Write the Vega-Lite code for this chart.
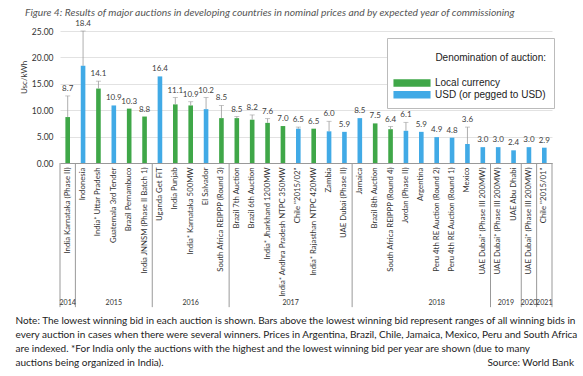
{
  "$schema": "https://vega.github.io/schema/vega-lite/v6.json",
  "autosize": "none",
  "width": 492,
  "height": 132,
  "padding": {"left": 60, "top": 31, "right": 31, "bottom": 213},
  "background": "white",
  "title": {
    "text": "Figure 4: Results of major auctions in developing countries in nominal prices and by expected year of commissioning",
    "anchor": "start",
    "frame": "group",
    "dx": -35,
    "dy": 2,
    "font": "Lato",
    "fontSize": 10.3,
    "fontStyle": "italic",
    "fontWeight": "normal",
    "color": "#555555"
  },
  "datasets": {
    "bars": [
      {"key": "India Karnataka (Phase II)#2014", "currency": "Local currency", "value": 8.7, "hi": 12.7},
      {"key": "Indonesia#2015", "currency": "USD (or pegged to USD)", "value": 18.4, "hi": 25.0},
      {"key": "India* Uttar Pradesh#2015", "currency": "Local currency", "value": 14.1, "hi": 15.5},
      {"key": "Guatemala 3rd Tender#2015", "currency": "USD (or pegged to USD)", "value": 10.9, "hi": 10.9},
      {"key": "Brazil Pernambuco#2015", "currency": "Local currency", "value": 10.3, "hi": 10.3},
      {"key": "India JNNSM (Phase II Batch 1)#2015", "currency": "Local currency", "value": 8.8, "hi": 8.8},
      {"key": "Uganda Get FiT#2016", "currency": "USD (or pegged to USD)", "value": 16.4, "hi": 16.4},
      {"key": "India Punjab#2016", "currency": "Local currency", "value": 11.1, "hi": 12.4},
      {"key": "India* Karnataka 500MW#2016", "currency": "Local currency", "value": 10.9, "hi": 11.6},
      {"key": "El Salvador#2016", "currency": "USD (or pegged to USD)", "value": 10.2, "hi": 12.4},
      {"key": "South Africa REIPPP (Round 3)#2016", "currency": "Local currency", "value": 8.5, "hi": 10.9},
      {"key": "Brazil 7th Auction#2017", "currency": "Local currency", "value": 8.5, "hi": 8.8},
      {"key": "Brazil 6th Auction#2017", "currency": "Local currency", "value": 8.2, "hi": 9.1},
      {"key": "India* Jharkhand 1200MW#2017", "currency": "Local currency", "value": 7.6, "hi": 8.4},
      {"key": "India* Andhra Pradesh NTPC 350MW#2017", "currency": "Local currency", "value": 7.0, "hi": 7.0},
      {"key": "Chile \"2015/02\"#2017", "currency": "USD (or pegged to USD)", "value": 6.5, "hi": 6.8},
      {"key": "India* Rajasthan NTPC 420MW#2017", "currency": "Local currency", "value": 6.5, "hi": 6.5},
      {"key": "Zambia#2017", "currency": "USD (or pegged to USD)", "value": 6.0, "hi": 7.9},
      {"key": "UAE Dubai (Phase II)#2017", "currency": "USD (or pegged to USD)", "value": 5.9, "hi": 5.9},
      {"key": "Jamaica#2018", "currency": "USD (or pegged to USD)", "value": 8.5, "hi": 8.5},
      {"key": "Brazil 8th Auction#2018", "currency": "Local currency", "value": 7.5, "hi": 7.5},
      {"key": "South Africa REIPPP (Round 4)#2018", "currency": "Local currency", "value": 6.4, "hi": 6.9},
      {"key": "Jordan (Phase II)#2018", "currency": "USD (or pegged to USD)", "value": 6.1, "hi": 7.7},
      {"key": "Argentina#2018", "currency": "USD (or pegged to USD)", "value": 5.9, "hi": 5.9},
      {"key": "Peru 4th RE Auction (Round 2)#2018", "currency": "USD (or pegged to USD)", "value": 4.9, "hi": 4.9},
      {"key": "Peru 4th RE Auction (Round 1)#2018", "currency": "USD (or pegged to USD)", "value": 4.8, "hi": 4.8},
      {"key": "Mexico#2018", "currency": "USD (or pegged to USD)", "value": 3.6, "hi": 6.8},
      {"key": "UAE Dubai* (Phase III 200MW)#2018", "currency": "USD (or pegged to USD)", "value": 3.0, "hi": 3.0},
      {"key": "UAE Dubai* (Phase III 200MW)#2019", "currency": "USD (or pegged to USD)", "value": 3.0, "hi": 3.0},
      {"key": "UAE Abu Dhabi#2019", "currency": "USD (or pegged to USD)", "value": 2.4, "hi": 2.4},
      {"key": "UAE Dubai* (Phase III 200MW)#2020", "currency": "USD (or pegged to USD)", "value": 3.0, "hi": 3.0},
      {"key": "Chile \"2015/01\"#2021", "currency": "USD (or pegged to USD)", "value": 2.9, "hi": 2.9}
    ],
    "groups": [
      {"year": "2014", "first": "India Karnataka (Phase II)#2014", "last": "India Karnataka (Phase II)#2014", "centre": "India Karnataka (Phase II)#2014", "between": false},
      {"year": "2015", "first": "Indonesia#2015", "last": "India JNNSM (Phase II Batch 1)#2015", "centre": "Guatemala 3rd Tender#2015", "between": false},
      {"year": "2016", "first": "Uganda Get FiT#2016", "last": "South Africa REIPPP (Round 3)#2016", "centre": "India* Karnataka 500MW#2016", "between": false},
      {"year": "2017", "first": "Brazil 7th Auction#2017", "last": "UAE Dubai (Phase II)#2017", "centre": "Chile \"2015/02\"#2017", "between": true},
      {"year": "2018", "first": "Jamaica#2018", "last": "UAE Dubai* (Phase III 200MW)#2018", "centre": "Peru 4th RE Auction (Round 2)#2018", "between": false},
      {"year": "2019", "first": "UAE Dubai* (Phase III 200MW)#2019", "last": "UAE Abu Dhabi#2019", "centre": "UAE Abu Dhabi#2019", "between": true},
      {"year": "2020", "first": "UAE Dubai* (Phase III 200MW)#2020", "last": "UAE Dubai* (Phase III 200MW)#2020", "centre": "UAE Dubai* (Phase III 200MW)#2020", "between": false},
      {"year": "2021", "first": "Chile \"2015/01\"#2021", "last": "Chile \"2015/01\"#2021", "centre": "Chile \"2015/01\"#2021", "between": false}
    ],
    "source": [
      {"text": "Source: World Bank", "at": "Chile \"2015/01\"#2021"}
    ]
  },
  "layer": [
    {
      "data": {"name": "bars"},
      "mark": {"type": "bar", "width": {"band": 0.3}},
      "encoding": {
        "x": {
          "field": "key",
          "type": "nominal",
          "sort": null,
          "scale": {
            "paddingInner": 0,
            "paddingOuter": 0,
            "domain": [
              "India Karnataka (Phase II)#2014", "Indonesia#2015", "India* Uttar Pradesh#2015", "Guatemala 3rd Tender#2015", "Brazil Pernambuco#2015", "India JNNSM (Phase II Batch 1)#2015",
              "Uganda Get FiT#2016", "India Punjab#2016", "India* Karnataka 500MW#2016", "El Salvador#2016", "South Africa REIPPP (Round 3)#2016",
              "Brazil 7th Auction#2017", "Brazil 6th Auction#2017", "India* Jharkhand 1200MW#2017", "India* Andhra Pradesh NTPC 350MW#2017", "Chile \"2015/02\"#2017", "India* Rajasthan NTPC 420MW#2017", "Zambia#2017", "UAE Dubai (Phase II)#2017",
              "Jamaica#2018", "Brazil 8th Auction#2018", "South Africa REIPPP (Round 4)#2018", "Jordan (Phase II)#2018", "Argentina#2018", "Peru 4th RE Auction (Round 2)#2018", "Peru 4th RE Auction (Round 1)#2018", "Mexico#2018", "UAE Dubai* (Phase III 200MW)#2018",
              "UAE Dubai* (Phase III 200MW)#2019", "UAE Abu Dhabi#2019", "UAE Dubai* (Phase III 200MW)#2020", "Chile \"2015/01\"#2021"
            ]
          },
          "axis": {
            "labelExpr": "split(datum.label, '#')[0]",
            "labelAngle": -90,
            "labelFont": "Lato",
            "labelFontSize": 7.8,
            "labelColor": "#333333",
            "labelPadding": 4,
            "labelLimit": 200,
            "ticks": false,
            "domainColor": "#999999",
            "grid": false,
            "title": [
              "Note: The lowest winning bid in each auction is shown. Bars above the lowest winning bid represent ranges of all winning bids in",
              "every auction in cases when there were several winners. Prices in Argentina, Brazil, Chile, Jamaica, Mexico, Peru and South Africa",
              "are indexed. *For India only the auctions with the highest and the lowest winning bid per year are shown (due to many",
              "auctions being organized in India)."
            ],
            "titleFont": "Lato",
            "titleFontSize": 10,
            "titleFontWeight": "normal",
            "titleColor": "#222222",
            "titleAnchor": "start",
            "titleAlign": "left",
            "titleBaseline": "top",
            "titleAngle": 0,
            "titleX": -45,
            "titleY": 152,
            "titleLineHeight": 14
          }
        },
        "y": {
          "field": "value",
          "type": "quantitative",
          "scale": {"domain": [0, 25], "nice": false},
          "axis": {
            "format": ".2f",
            "title": "Usc/kWh",
            "titleY": 46,
            "titlePadding": 3
          }
        },
        "color": {
          "field": "currency",
          "type": "nominal",
          "scale": {"domain": ["Local currency", "USD (or pegged to USD)"], "range": ["#3fa748", "#41aae6"]},
          "legend": {
            "orient": "none",
            "legendX": 327,
            "legendY": 7,
            "title": ["", "Denomination of auction:"],
            "titleFont": "Liberation Sans",
            "titleFontSize": 10,
            "titleFontWeight": "normal",
            "titleColor": "#222222",
            "titleAnchor": "end",
            "titleLineHeight": 7,
            "titlePadding": 15,
            "labelFont": "Liberation Sans",
            "labelFontSize": 10,
            "labelColor": "#222222",
            "labelOffset": 18,
            "symbolType": "M-5,-1H5V1H-5Z",
            "symbolSize": 55,
            "symbolOffset": 12,
            "symbolStrokeWidth": 0,
            "symbolOpacity": 1,
            "rowPadding": 1.8,
            "padding": 8,
            "fillColor": "white",
            "strokeColor": "#bbbbbb"
          }
        }
      }
    },
    {
      "data": {"name": "bars"},
      "transform": [{"filter": "datum.hi > datum.value"}],
      "mark": {"type": "rule", "color": "#9a9a9a", "strokeWidth": 0.8},
      "encoding": {
        "x": {"field": "key", "type": "nominal"},
        "y": {"field": "value", "type": "quantitative"},
        "y2": {"field": "hi"}
      }
    },
    {
      "data": {"name": "bars"},
      "transform": [{"filter": "datum.hi > datum.value"}],
      "mark": {"type": "tick", "color": "#9a9a9a", "size": 5, "thickness": 0.8},
      "encoding": {
        "x": {"field": "key", "type": "nominal"},
        "y": {"field": "hi", "type": "quantitative"}
      }
    },
    {
      "data": {"name": "bars"},
      "mark": {"type": "text", "baseline": "bottom", "dy": -3, "font": "Lato", "fontSize": 8, "color": "#404040"},
      "encoding": {
        "x": {"field": "key", "type": "nominal"},
        "y": {"field": "hi", "type": "quantitative"},
        "text": {"field": "value", "type": "quantitative", "format": ".1f"}
      }
    },
    {
      "data": {"name": "groups"},
      "mark": {"type": "rule", "color": "#999999", "strokeWidth": 1},
      "encoding": {
        "x": {"field": "first", "type": "nominal", "bandPosition": 0},
        "y": {"datum": 0, "type": "quantitative"},
        "y2": {"datum": -27.3}
      }
    },
    {
      "data": {"name": "groups"},
      "transform": [{"filter": "datum.year == '2021'"}],
      "mark": {"type": "rule", "color": "#999999", "strokeWidth": 1},
      "encoding": {
        "x": {"field": "last", "type": "nominal", "bandPosition": 1},
        "y": {"datum": 0, "type": "quantitative"},
        "y2": {"datum": -27.3}
      }
    },
    {
      "data": {"name": "groups"},
      "transform": [{"filter": "!datum.between"}],
      "mark": {"type": "text", "baseline": "middle", "font": "Lato", "fontSize": 7.1, "color": "#333333"},
      "encoding": {
        "x": {"field": "centre", "type": "nominal", "bandPosition": 0.5},
        "y": {"datum": -26.5, "type": "quantitative"},
        "text": {"field": "year"}
      }
    },
    {
      "data": {"name": "groups"},
      "transform": [{"filter": "datum.between"}],
      "mark": {"type": "text", "baseline": "middle", "font": "Lato", "fontSize": 7.1, "color": "#333333"},
      "encoding": {
        "x": {"field": "centre", "type": "nominal", "bandPosition": 0},
        "y": {"datum": -26.5, "type": "quantitative"},
        "text": {"field": "year"}
      }
    },
    {
      "data": {"name": "source"},
      "mark": {"type": "text", "align": "right", "baseline": "middle", "dx": 22, "font": "Lato", "fontSize": 10, "color": "#222222"},
      "encoding": {
        "x": {"field": "at", "type": "nominal", "bandPosition": 1},
        "y": {"datum": -37.9, "type": "quantitative"},
        "text": {"field": "text"}
      }
    }
  ],
  "config": {
    "view": {"stroke": null},
    "axisY": {
      "tickCount": 5,
      "grid": true,
      "gridColor": "#e2e2e2",
      "domain": false,
      "ticks": false,
      "labelFont": "Lato",
      "labelFontSize": 8.5,
      "labelColor": "#333333",
      "labelPadding": 7,
      "titleFont": "Lato",
      "titleFontSize": 8,
      "titleFontWeight": "normal",
      "titleColor": "#333333"
    }
  }
}
